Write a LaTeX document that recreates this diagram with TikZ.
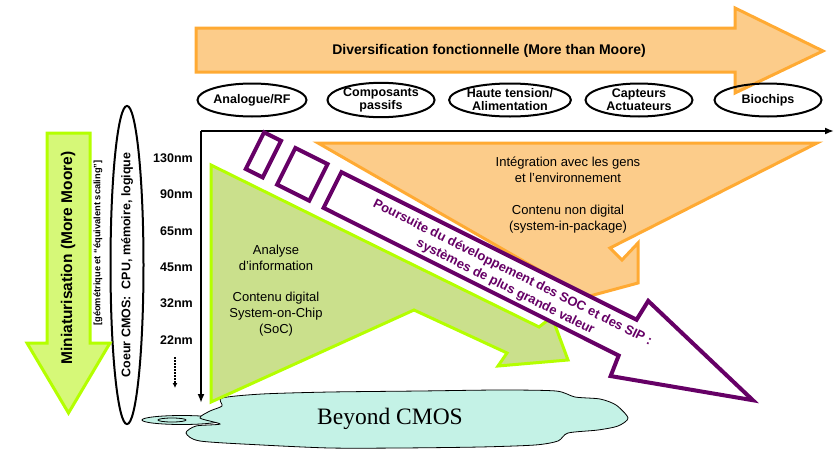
\documentclass[tikz,border=0pt]{standalone}
\usepackage{fontspec}
\setmainfont{Liberation Sans}
\newfontfamily\serifbeyond{Liberation Serif}
\usetikzlibrary{shapes.geometric,arrows.meta}
\definecolor{limeline}{RGB}{180,255,0}
\definecolor{limefill}{RGB}{214,248,120}
\definecolor{trifill}{RGB}{202,224,140}
\definecolor{orline}{RGB}{255,170,51}
\definecolor{orfill}{RGB}{252,204,138}
\definecolor{purp}{RGB}{102,0,102}
\definecolor{cloudfill}{RGB}{196,242,230}
\tikzset{
  topell/.style={draw=black, line width=2pt, ellipse, minimum width=107pt, minimum height=33pt, inner sep=0pt, font=\fontsize{12.5}{13}\selectfont\bfseries, align=center},
  nmlab/.style={anchor=east, inner sep=0pt, font=\fontsize{12.5}{14}\selectfont\bfseries},
  greenshape/.style={draw=limeline, line width=3pt},
  orangeshape/.style={draw=orline, line width=3pt, fill=orfill},
  purpline/.style={draw=purp, line width=4pt},
  bodytext/.style={align=center, font=\fontsize{13}{16}\selectfont},
  purptext/.style={text=purp, rotate=-26.57, inner sep=0pt, font=\fontsize{13}{15}\selectfont\bfseries},
  axisline/.style={black, -{Latex[length=9pt,width=7pt]}},
}
\begin{document}
\begin{tikzpicture}[x=1pt,y=-1pt]
\useasboundingbox (0,0) rectangle (840,455);

% top orange arrow
\draw[orangeshape] (196,28) -- (735,28) -- (735,8) -- (823,51) -- (735,93) -- (735,72) -- (196,72) -- cycle;
\node[font=\fontsize{14}{16}\selectfont\bfseries] (div) at (489,51) {Diversification fonctionnelle (More than Moore)};

% top ellipses
\node[topell] (e1) at (252,100) {Analogue/RF};
\node[topell] (e2) at (381,100) {Composants\\passifs};
\node[topell] (e3) at (510,100) {Haute tension/\\Alimentation};
\node[topell] (e4) at (639,100) {Capteurs\\Actuateurs};
\node[topell] (e5) at (768,100) {Biochips};

% cloud
\draw[black, line width=0.8pt, fill=cloudfill] (182,420) ellipse [x radius=40, y radius=4.5];
\draw[black, line width=0.8pt] (172,420) ellipse [x radius=14, y radius=2];
\draw[black, line width=0.8pt, fill=cloudfill] plot[smooth cycle, tension=0.45] coordinates {
 (222,398) (262,394) (330,392) (420,391) (500,390) (556,391) (575,397) (600,399) (616,405)
 (628,418) (618,426) (598,430) (568,433) (558,441) (535,445) (480,447) (400,448) (330,448)
 (262,445) (200,441) (186,433) (196,426) (220,424) (200,418) (210,411) (222,406)};
\node[font=\serifbeyond\fontsize{23.5}{26}\selectfont] (beyond) at (390,419) {Beyond CMOS};

% axes
\coordinate (O) at (201,131);
\coordinate (xe) at (834,131);
\coordinate (ye) at (201,403);
\draw[axisline, line width=2.5pt] (O) -- (xe);
\draw[axisline, line width=2pt] (O) -- (ye);

% nm labels
\node[nmlab] (n130) at (193,158) {130nm};
\node[nmlab] (n90) at (193,194) {90nm};
\node[nmlab] (n65) at (193,231) {65nm};
\node[nmlab] (n45) at (193,267) {45nm};
\node[nmlab] (n32) at (193,303) {32nm};
\node[nmlab] (n22) at (193,340) {22nm};
\coordinate (da) at (175,357);
\coordinate (db) at (175,388);
\draw[line width=2pt, dash pattern=on 1.5pt off 1.5pt, -{Latex[length=5pt,width=5pt]}] (da) -- (db);

% left vertical ellipse
\node[draw, line width=2pt, ellipse, rotate=90, minimum width=276pt, minimum height=33pt, inner sep=0pt, font=\fontsize{12.5}{14}\selectfont\bfseries] (coeur) at (127,265) {Coeur CMOS:\ \ CPU, mémoire, logique};
\node[rotate=90, inner sep=0pt, font=\fontsize{9.3}{10}\selectfont\bfseries] (geo) at (98,243) {[géométrique et “équivalent scaling”]};

% miniaturisation arrow
\draw[greenshape, fill=limefill] (47,133) -- (90,133) -- (90,343) -- (110,343) -- (68.5,413) -- (27,343) -- (47,343) -- cycle;
\node[rotate=90, font=\fontsize{15.5}{17}\selectfont\bfseries] (mini) at (68,258) {Miniaturisation (More Moore)};

% green triangle arrow
\draw[greenshape, fill=trifill] (211,165) -- (539,327) -- (552,317) -- (568,360) -- (498,366) -- (507,353) -- (414,310) -- (211,402) -- cycle;
\node[bodytext] (ana) at (276,257.5) {Analyse\\d'information};
\node[bodytext] (cont) at (276,314) {Contenu digital\\System-on-Chip\\(SoC)};

% orange lower arrow
\draw[orangeshape] (318,143) -- (817,143) -- (610,248) -- (622,260) -- (638,243) -- (638,283) -- (586,297) -- cycle;
\node[bodytext] (integ) at (568,170) {Intégration avec les gens\\et l'environnement};
\node[bodytext] (cnd) at (568,219) {Contenu non digital\\(system-in-package)};

% purple arrow
\begin{scope}[shift={(332.5,190)}, rotate=-26.57]
\draw[purpline, fill=white] (0,-20) -- (330,-20) -- (332,-42) -- (470,0) -- (332,42) -- (330,20) -- (0,20) -- cycle;
\draw[purpline] (-87,-21) rectangle (-68,20);
\draw[purpline] (-52,-21) rectangle (-16,20);
\node[purptext] (t1) at (198,-6.5) {Poursuite du développement des SOC et des SIP :};
\node[purptext] (t2) at (198,9.5) {systèmes de plus grande valeur};
\end{scope}
\end{tikzpicture}
\end{document}
